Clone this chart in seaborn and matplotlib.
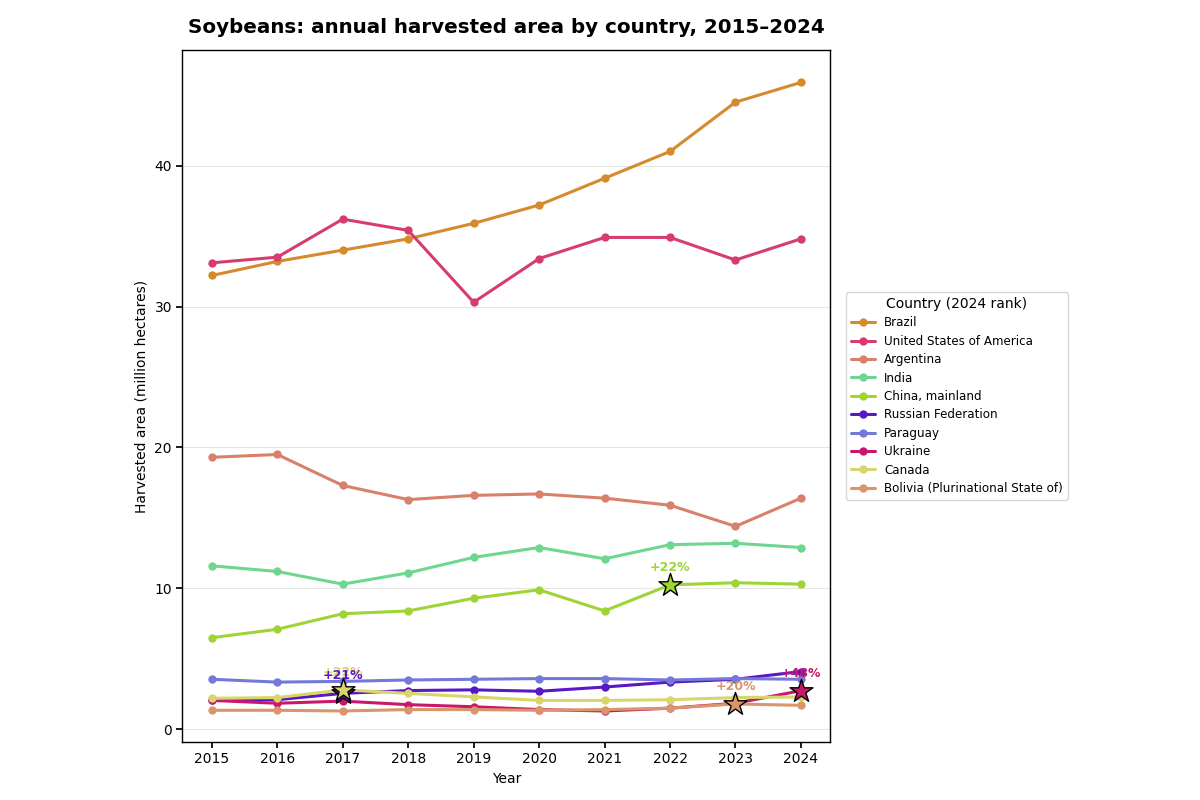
import numpy as np
import pandas as pd
import matplotlib
matplotlib.use("Agg")
import matplotlib.pyplot as plt
import seaborn as sns

years = list(range(2015, 2025))
countries = ["Brazil", "United States of America", "Argentina", "India", "China, mainland",
             "Russian Federation", "Paraguay", "Ukraine", "Canada", "Bolivia (Plurinational State of)"]

brazil = [32.2, 33.2, 34.0, 34.8, 35.9, 37.2, 39.1, 41.0, 44.5, 45.9]
usa = [33.1, 33.5, 36.2, 35.4, 30.3, 33.4, 34.9, 34.9, 33.3, 34.8]
argentina = [19.3, 19.5, 17.3, 16.3, 16.6, 16.7, 16.4, 15.9, 14.4, 16.4]
india = [11.6, 11.2, 10.3, 11.1, 12.2, 12.9, 12.1, 13.1, 13.2, 12.9]
china = [6.5, 7.1, 8.2, 8.4, 9.3, 9.9, 8.4, 10.25, 10.4, 10.3]
russia = [2.1, 2.1, 2.55, 2.75, 2.8, 2.7, 3.0, 3.35, 3.55, 4.1]
paraguay = [3.55, 3.35, 3.4, 3.5, 3.55, 3.6, 3.6, 3.5, 3.6, 3.55]
ukraine = [2.05, 1.85, 2.0, 1.75, 1.6, 1.4, 1.3, 1.5, 1.85, 2.74]
canada = [2.2, 2.25, 2.8, 2.55, 2.3, 2.05, 2.05, 2.1, 2.25, 2.3]
bolivia = [1.35, 1.35, 1.3, 1.4, 1.4, 1.35, 1.4, 1.5, 1.8, 1.7]

series = [brazil, usa, argentina, india, china, russia, paraguay, ukraine, canada, bolivia]
colors = ["#d68a2e", "#d63d6e", "#d9806b", "#6fd690", "#9ed435", "#5a17c4",
          "#7378d9", "#c9186b", "#d9d46b", "#d9966b"]
palette = dict(zip(countries, colors))

# highlighted largest year-on-year jumps: (country, year, label)
highlights = [("China, mainland", 2022, "+22%"), ("Russian Federation", 2017, "+21%"),
              ("Canada", 2017, "+22%"), ("Bolivia (Plurinational State of)", 2023, "+20%"),
              ("Ukraine", 2024, "+48%")]
label_order = ["China, mainland", "Canada", "Russian Federation",
               "Bolivia (Plurinational State of)", "Ukraine"]

df = pd.DataFrame({
    "Year": np.tile(years, len(countries)),
    "Country": np.repeat(countries, len(years)),
    "Area": np.concatenate(series),
})

sns.set_theme(style="white")
plt.rcParams['font.family'] = ['DejaVu Sans']
plt.rcParams['text.color'] = 'black'
plt.rcParams['axes.labelcolor'] = 'black'
plt.rcParams['xtick.color'] = 'black'
plt.rcParams['ytick.color'] = 'black'
fig = plt.figure(figsize=(12, 8), dpi=100)
ax = fig.add_axes([0.152, 0.0725, 0.54, 0.865])

sns.lineplot(data=df, x="Year", y="Area", hue="Country", hue_order=countries,
             palette=palette, marker="o", markersize=6, markeredgewidth=0,
             linewidth=2.2, ax=ax)

for c, yr, lab in highlights:
    v = series[countries.index(c)][years.index(yr)]
    ax.scatter([yr], [v], marker="*", s=300, color=palette[c], edgecolor="black",
               linewidth=1, zorder=5)

for c in label_order:
    c_, yr, lab = [h for h in highlights if h[0] == c][0]
    v = series[countries.index(c)][years.index(yr)]
    ax.annotate(lab, (yr, v), xytext=(0, 8), textcoords="offset points",
                ha="center", va="bottom", color=palette[c], fontsize=9,
                fontweight="bold", zorder=6)

ax.set_xlim(2014.55, 2024.45)
ax.set_ylim(-0.9, 48.2)
ax.set_xticks(years)
ax.set_yticks([0, 10, 20, 30, 40])
ax.tick_params(axis="both", labelsize=10, length=4, color="black", labelcolor="black",
               left=True, bottom=True)
ax.grid(axis="y", color="#e5e5e5", linewidth=0.8)
ax.set_axisbelow(True)
for s in ax.spines.values():
    s.set_color("black")
    s.set_linewidth(1)
ax.set_xlabel("Year", fontsize=10, color="black")
ax.set_ylabel("Harvested area (million hectares)", fontsize=10, color="black")
ax.set_title("Soybeans: annual harvested area by country, 2015\u20132024",
             fontsize=14.3, fontweight="bold", pad=12, color="black")

leg = ax.legend(title="Country (2024 rank)", loc="center left",
                bbox_to_anchor=(1.015, 0.5), fontsize=8.6, title_fontsize=10,
                frameon=True, labelspacing=0.45)
for t in leg.get_texts():
    t.set_color("black")
leg.get_title().set_color("black")

fig.savefig("out.png", dpi=100)
